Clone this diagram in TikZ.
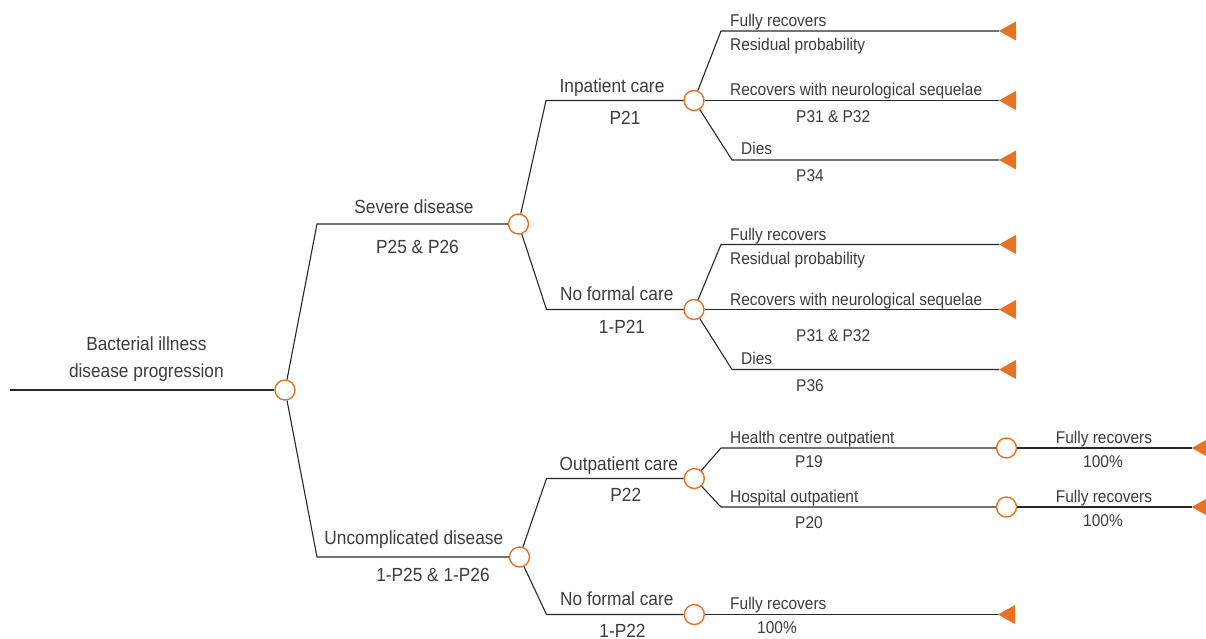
\documentclass[tikz,border=0pt]{standalone}
\usepackage{fontspec}
\setmainfont{Liberation Sans}[FakeStretch=0.91]
\definecolor{treeorange}{RGB}{232,114,33}
\definecolor{txtgray}{RGB}{60,60,60}
\definecolor{linegray}{RGB}{40,40,40}
\tikzset{
  chance/.style={circle,draw=treeorange,line width=1.4pt,fill=white,minimum size=20pt,inner sep=0pt},
  branch/.style={draw=linegray,line width=1.1pt,line join=miter},
  biglab/.style={inner sep=0pt,text=txtgray,font=\fontsize{19}{22}\selectfont,anchor=base},
  smalllab/.style={inner sep=0pt,text=txtgray,font=\fontsize{17}{20}\selectfont,anchor=base west},
  smallc/.style={inner sep=0pt,text=txtgray,font=\fontsize{17}{20}\selectfont,anchor=base},
  termfill/.style={fill=treeorange,draw=none}
}
\newcommand{\termtri}[1]{\fill[termfill] (#1) -- ++(17,-9.5) -- ++(0,19) -- cycle;}
\begin{document}
\begin{tikzpicture}[x=1pt,y=-1pt]
\useasboundingbox (0,0) rectangle (1206,639);
\fill[white] (0,0) rectangle (1206,639);

% ---- coordinates (corners, free ends) ----
\coordinate (start) at (10,390);
\coordinate (ksev) at (317,224);
\coordinate (kunc) at (317,557);
\coordinate (kinp) at (546,100.5);
\coordinate (knfa) at (546.5,309.5);
\coordinate (ka1) at (721,31);
\coordinate (ka3) at (732,160);
\coordinate (kb1) at (721,244.5);
\coordinate (kb3) at (732,369.5);
\coordinate (kout) at (546.5,478.5);
\coordinate (knfb) at (546.5,614.5);
\coordinate (khc) at (721,448);
\coordinate (kho) at (721,507);
% terminals
\coordinate (ta1) at (999,31);
\coordinate (ta2) at (999,100.5);
\coordinate (ta3) at (999,160);
\coordinate (tb1) at (999,244.5);
\coordinate (tb2) at (999,309.5);
\coordinate (tb3) at (999,369.5);
\coordinate (thc) at (1191.7,448);
\coordinate (tho) at (1191.7,507);
\coordinate (tc) at (998,614.5);

% ---- chance nodes ----
\node[chance] (c0) at (285,390) {};
\node[chance] (csev) at (518.5,224) {};
\node[chance] (cunc) at (519.5,557) {};
\node[chance] (cinp) at (694,100.5) {};
\node[chance] (cnfa) at (694,309.5) {};
\node[chance] (cout) at (694.3,478.5) {};
\node[chance] (cnfb) at (694.3,614.5) {};
\node[chance] (chc) at (1006.5,448) {};
\node[chance] (cho) at (1006.5,507) {};

% ---- connectors ----
\draw[branch] (start) -- (c0);
\draw[branch] (c0) -- (ksev) -- (csev);
\draw[branch] (c0) -- (kunc) -- (cunc);
\draw[branch] (csev) -- (kinp) -- (cinp);
\draw[branch] (csev) -- (knfa) -- (cnfa);
\draw[branch] (cinp) -- (ka1) -- (ta1);
\draw[branch] (cinp) -- (ta2);
\draw[branch] (cinp) -- (ka3) -- (ta3);
\draw[branch] (cnfa) -- (kb1) -- (tb1);
\draw[branch] (cnfa) -- (tb2);
\draw[branch] (cnfa) -- (kb3) -- (tb3);
\draw[branch] (cunc) -- (kout) -- (cout);
\draw[branch] (cunc) -- (knfb) -- (cnfb);
\draw[branch] (cout) -- (khc) -- (chc);
\draw[branch] (cout) -- (kho) -- (cho);
\draw[branch] (chc) -- (thc);
\draw[branch] (cho) -- (tho);
\draw[branch] (cnfb) -- (tc);

% ---- terminals ----
\termtri{ta1}\termtri{ta2}\termtri{ta3}
\termtri{tb1}\termtri{tb2}\termtri{tb3}
\termtri{thc}\termtri{tho}\termtri{tc}

% ---- labels ----
\node[biglab] (l0a) at (146.4,350.7) {Bacterial illness};
\node[biglab] (l0b) at (146.4,377) {disease progression};
\node[biglab] (lsev) at (414,213.3) {Severe disease};
\node[biglab] (psev) at (417.5,253.3) {P25 \& P26};
\node[biglab] (lunc) at (413.8,544) {Uncomplicated disease};
\node[biglab] (punc) at (433,581.7) {1-P25 \& 1-P26};
\node[biglab] (linp) at (612,92.7) {Inpatient care};
\node[biglab] (pinp) at (625,125) {P21};
\node[biglab] (lnfa) at (616.7,300.7) {No formal care};
\node[biglab] (pnfa) at (622,333) {1-P21};
\node[biglab] (lout) at (618.8,470) {Outpatient care};
\node[biglab] (pout) at (625.8,501.7) {P22};
\node[biglab] (lnfb) at (616.8,605) {No formal care};
\node[biglab] (pnfb) at (622.5,637) {1-P22};

\node[smalllab] (la1) at (730,26.2) {Fully recovers};
\node[smalllab] (pa1) at (730,50.3) {Residual probability};
\node[smalllab] (la2) at (730,95.6) {Recovers with neurological sequelae};
\node[smalllab] (pa2) at (796,122.5) {P31 \& P32};
\node[smalllab] (la3) at (741,155) {Dies};
\node[smalllab] (pa3) at (796,182) {P34};

\node[smalllab] (lb1) at (730,240.3) {Fully recovers};
\node[smalllab] (pb1) at (730,264.4) {Residual probability};
\node[smalllab] (lb2) at (730,305.7) {Recovers with neurological sequelae};
\node[smalllab] (pb2) at (796,341) {P31 \& P32};
\node[smalllab] (lb3) at (741,364.4) {Dies};
\node[smalllab] (pb3) at (796,391) {P36};

\node[smalllab] (lhc) at (730,443) {Health centre outpatient};
\node[smalllab] (phc) at (795,467) {P19};
\node[smalllab] (lho) at (730,502.3) {Hospital outpatient};
\node[smalllab] (pho) at (795,528) {P20};

\node[smallc] (lhc2) at (1104,443) {Fully recovers};
\node[smallc] (phc2) at (1103,467) {100\%};
\node[smallc] (lho2) at (1104,502.3) {Fully recovers};
\node[smallc] (pho2) at (1103,526) {100\%};

\node[smalllab] (lc) at (730,609.7) {Fully recovers};
\node[smallc] (pc) at (777,633) {100\%};
\end{tikzpicture}
\end{document}
